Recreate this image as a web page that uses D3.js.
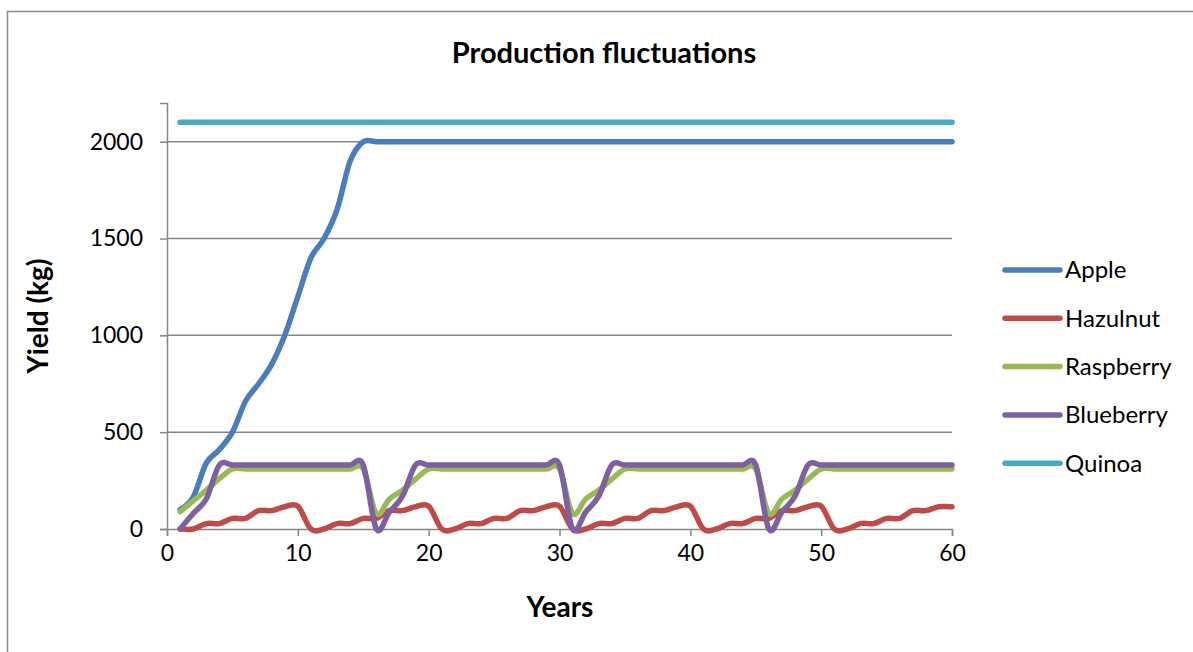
<!DOCTYPE html>
<html>
<head>
<meta charset="utf-8">
<script src="https://cdn.jsdelivr.net/npm/d3@7"></script>
<style>
  body { margin: 0; background: #fff; }
  text { font-family: Lato, 'Noto Sans', sans-serif; fill: #000; }
</style>
</head>
<body>
<div class="canvas"></div>
<script>
// data
const years = [
  1, 2, 3, 4, 5, 6, 7, 8, 9, 10, 11, 12, 13, 14, 15, 16, 17, 18, 19, 20,
  21, 22, 23, 24, 25, 26, 27, 28, 29, 30, 31, 32, 33, 34, 35, 36, 37, 38, 39, 40,
  41, 42, 43, 44, 45, 46, 47, 48, 49, 50, 51, 52, 53, 54, 55, 56, 57, 58, 59, 60
]

const apple = [
  100, 165, 340, 410, 500, 660, 750, 850, 1000, 1200, 1400, 1500, 1650, 1900, 2000,
  2000, 2000, 2000, 2000, 2000, 2000, 2000, 2000, 2000, 2000, 2000, 2000, 2000, 2000, 2000,
  2000, 2000, 2000, 2000, 2000, 2000, 2000, 2000, 2000, 2000, 2000, 2000, 2000, 2000, 2000,
  2000, 2000, 2000, 2000, 2000, 2000, 2000, 2000, 2000, 2000, 2000, 2000, 2000, 2000, 2000
]

const hazulnut = [
  0, 0, 28, 28, 55, 55, 95, 95, 115, 118,
  0, 0, 28, 28, 55, 55, 95, 95, 115, 118,
  0, 0, 28, 28, 55, 55, 95, 95, 115, 118,
  0, 0, 28, 28, 55, 55, 95, 95, 115, 118,
  0, 0, 28, 28, 55, 55, 95, 95, 115, 118,
  0, 0, 28, 28, 55, 55, 95, 95, 115, 115
]

const raspberry = [
  90, 145, 200, 260, 310, 310, 310, 310, 310, 310, 310, 310, 310, 310, 310,
  80, 155, 200, 258, 310, 310, 310, 310, 310, 310, 310, 310, 310, 310, 310,
  80, 155, 200, 258, 310, 310, 310, 310, 310, 310, 310, 310, 310, 310, 310,
  80, 155, 200, 258, 310, 310, 310, 310, 310, 310, 310, 310, 310, 310, 310
]

const blueberry = [
  0, 80, 155, 330, 330, 330, 330, 330, 330, 330, 330, 330, 330, 330, 330,
  0, 88, 170, 330, 330, 330, 330, 330, 330, 330, 330, 330, 330, 330, 330,
  0, 88, 170, 330, 330, 330, 330, 330, 330, 330, 330, 330, 330, 330, 330,
  0, 88, 170, 330, 330, 330, 330, 330, 330, 330, 330, 330, 330, 330, 330
]

const quinoa = [
  2100, 2100, 2100, 2100, 2100, 2100, 2100, 2100, 2100, 2100, 2100, 2100, 2100, 2100, 2100,
  2100, 2100, 2100, 2100, 2100, 2100, 2100, 2100, 2100, 2100, 2100, 2100, 2100, 2100, 2100,
  2100, 2100, 2100, 2100, 2100, 2100, 2100, 2100, 2100, 2100, 2100, 2100, 2100, 2100, 2100,
  2100, 2100, 2100, 2100, 2100, 2100, 2100, 2100, 2100, 2100, 2100, 2100, 2100, 2100, 2100
]

const seriesNames = ['Apple', 'Hazulnut', 'Raspberry', 'Blueberry', 'Quinoa']
const seriesValues = [apple, hazulnut, raspberry, blueberry, quinoa]
const seriesColors = ['#4a7ebb', '#be4b48', '#98b954', '#7d60a0', '#46aac5']

const xTicks = [0, 10, 20, 30, 40, 50, 60]
const yTicks = [0, 500, 1000, 1500, 2000]

// dimension
const dims = { width: 1193, height: 652 }
const plot = { left: 167, right: 952, top: 103, bottom: 529 }

const svg = d3.select('.canvas')
  .append('svg')
  .attr('width', dims.width)
  .attr('height', dims.height)

// chart frame (only top and left edges show)
svg.append('path')
  .attr('d', `M7.5,${dims.height} V11.5 H${dims.width}`)
  .attr('fill', 'none')
  .attr('stroke', '#8c8c8c')
  .attr('stroke-width', 1.5)

const x = d3.scaleLinear().domain([0, 60]).range([plot.left, plot.right])
const y = d3.scaleLinear().domain([0, 2200]).range([plot.bottom, plot.top])

// gridlines
svg.append('g')
  .selectAll('line')
  .data(yTicks.filter(d => d > 0))
  .join('line')
    .attr('x1', plot.left)
    .attr('x2', plot.right)
    .attr('y1', d => y(d))
    .attr('y2', d => y(d))
    .attr('stroke', '#868686')
    .attr('stroke-width', 1.5)

// axes
const xAxis = svg.append('g')
  .attr('transform', `translate(0, ${plot.bottom})`)
  .call(d3.axisBottom(x).tickValues(xTicks).tickSize(7).tickPadding(9))

const yAxis = svg.append('g')
  .attr('transform', `translate(${plot.left}, 0)`)
  .call(d3.axisLeft(y).tickValues(yTicks).tickFormat(d3.format('d')).tickSize(7).tickPadding(17))

;[xAxis, yAxis].forEach(g => {
  g.select('.domain').attr('stroke', '#868686').attr('stroke-width', 1.5)
  g.selectAll('.tick line').attr('stroke', '#868686').attr('stroke-width', 1.5)
  g.selectAll('.tick text').attr('font-size', 23).attr('font-family', 'Lato')
})

// lines
const line = d3.line()
  .x((d, i) => x(years[i]))
  .y(d => y(d))
  .curve(d3.curveCatmullRom.alpha(0))

svg.append('g')
  .selectAll('path')
  .data(seriesValues)
  .join('path')
    .attr('d', line)
    .attr('fill', 'none')
    .attr('stroke', (d, i) => seriesColors[i])
    .attr('stroke-width', 5.5)
    .attr('stroke-linecap', 'round')
    .attr('stroke-linejoin', 'round')

// title and axis labels
svg.append('text')
  .attr('x', 604)
  .attr('y', 63)
  .attr('text-anchor', 'middle')
  .attr('font-size', 29)
  .attr('font-weight', 'bold')
  .text('Production fluctuations')

svg.append('text')
  .attr('x', 560)
  .attr('y', 617)
  .attr('text-anchor', 'middle')
  .attr('font-size', 28)
  .attr('font-weight', 'bold')
  .text('Years')

svg.append('text')
  .attr('transform', `translate(48, ${(plot.top + plot.bottom) / 2}) rotate(-90)`)
  .attr('text-anchor', 'middle')
  .attr('font-size', 28)
  .attr('font-weight', 'bold')
  .text('Yield (kg)')

// legend
const legend = svg.append('g')
  .attr('transform', 'translate(1005, 270)')

const item = legend.selectAll('g')
  .data(seriesNames)
  .join('g')
    .attr('transform', (d, i) => `translate(0, ${i * 48.3})`)

item.append('line')
  .attr('x1', 0)
  .attr('x2', 55)
  .attr('stroke', (d, i) => seriesColors[i])
  .attr('stroke-width', 5.5)
  .attr('stroke-linecap', 'round')

item.append('text')
  .attr('x', 60)
  .attr('dy', '0.35em')
  .attr('font-size', 24)
  .text(d => d)
</script>
</body>
</html>
